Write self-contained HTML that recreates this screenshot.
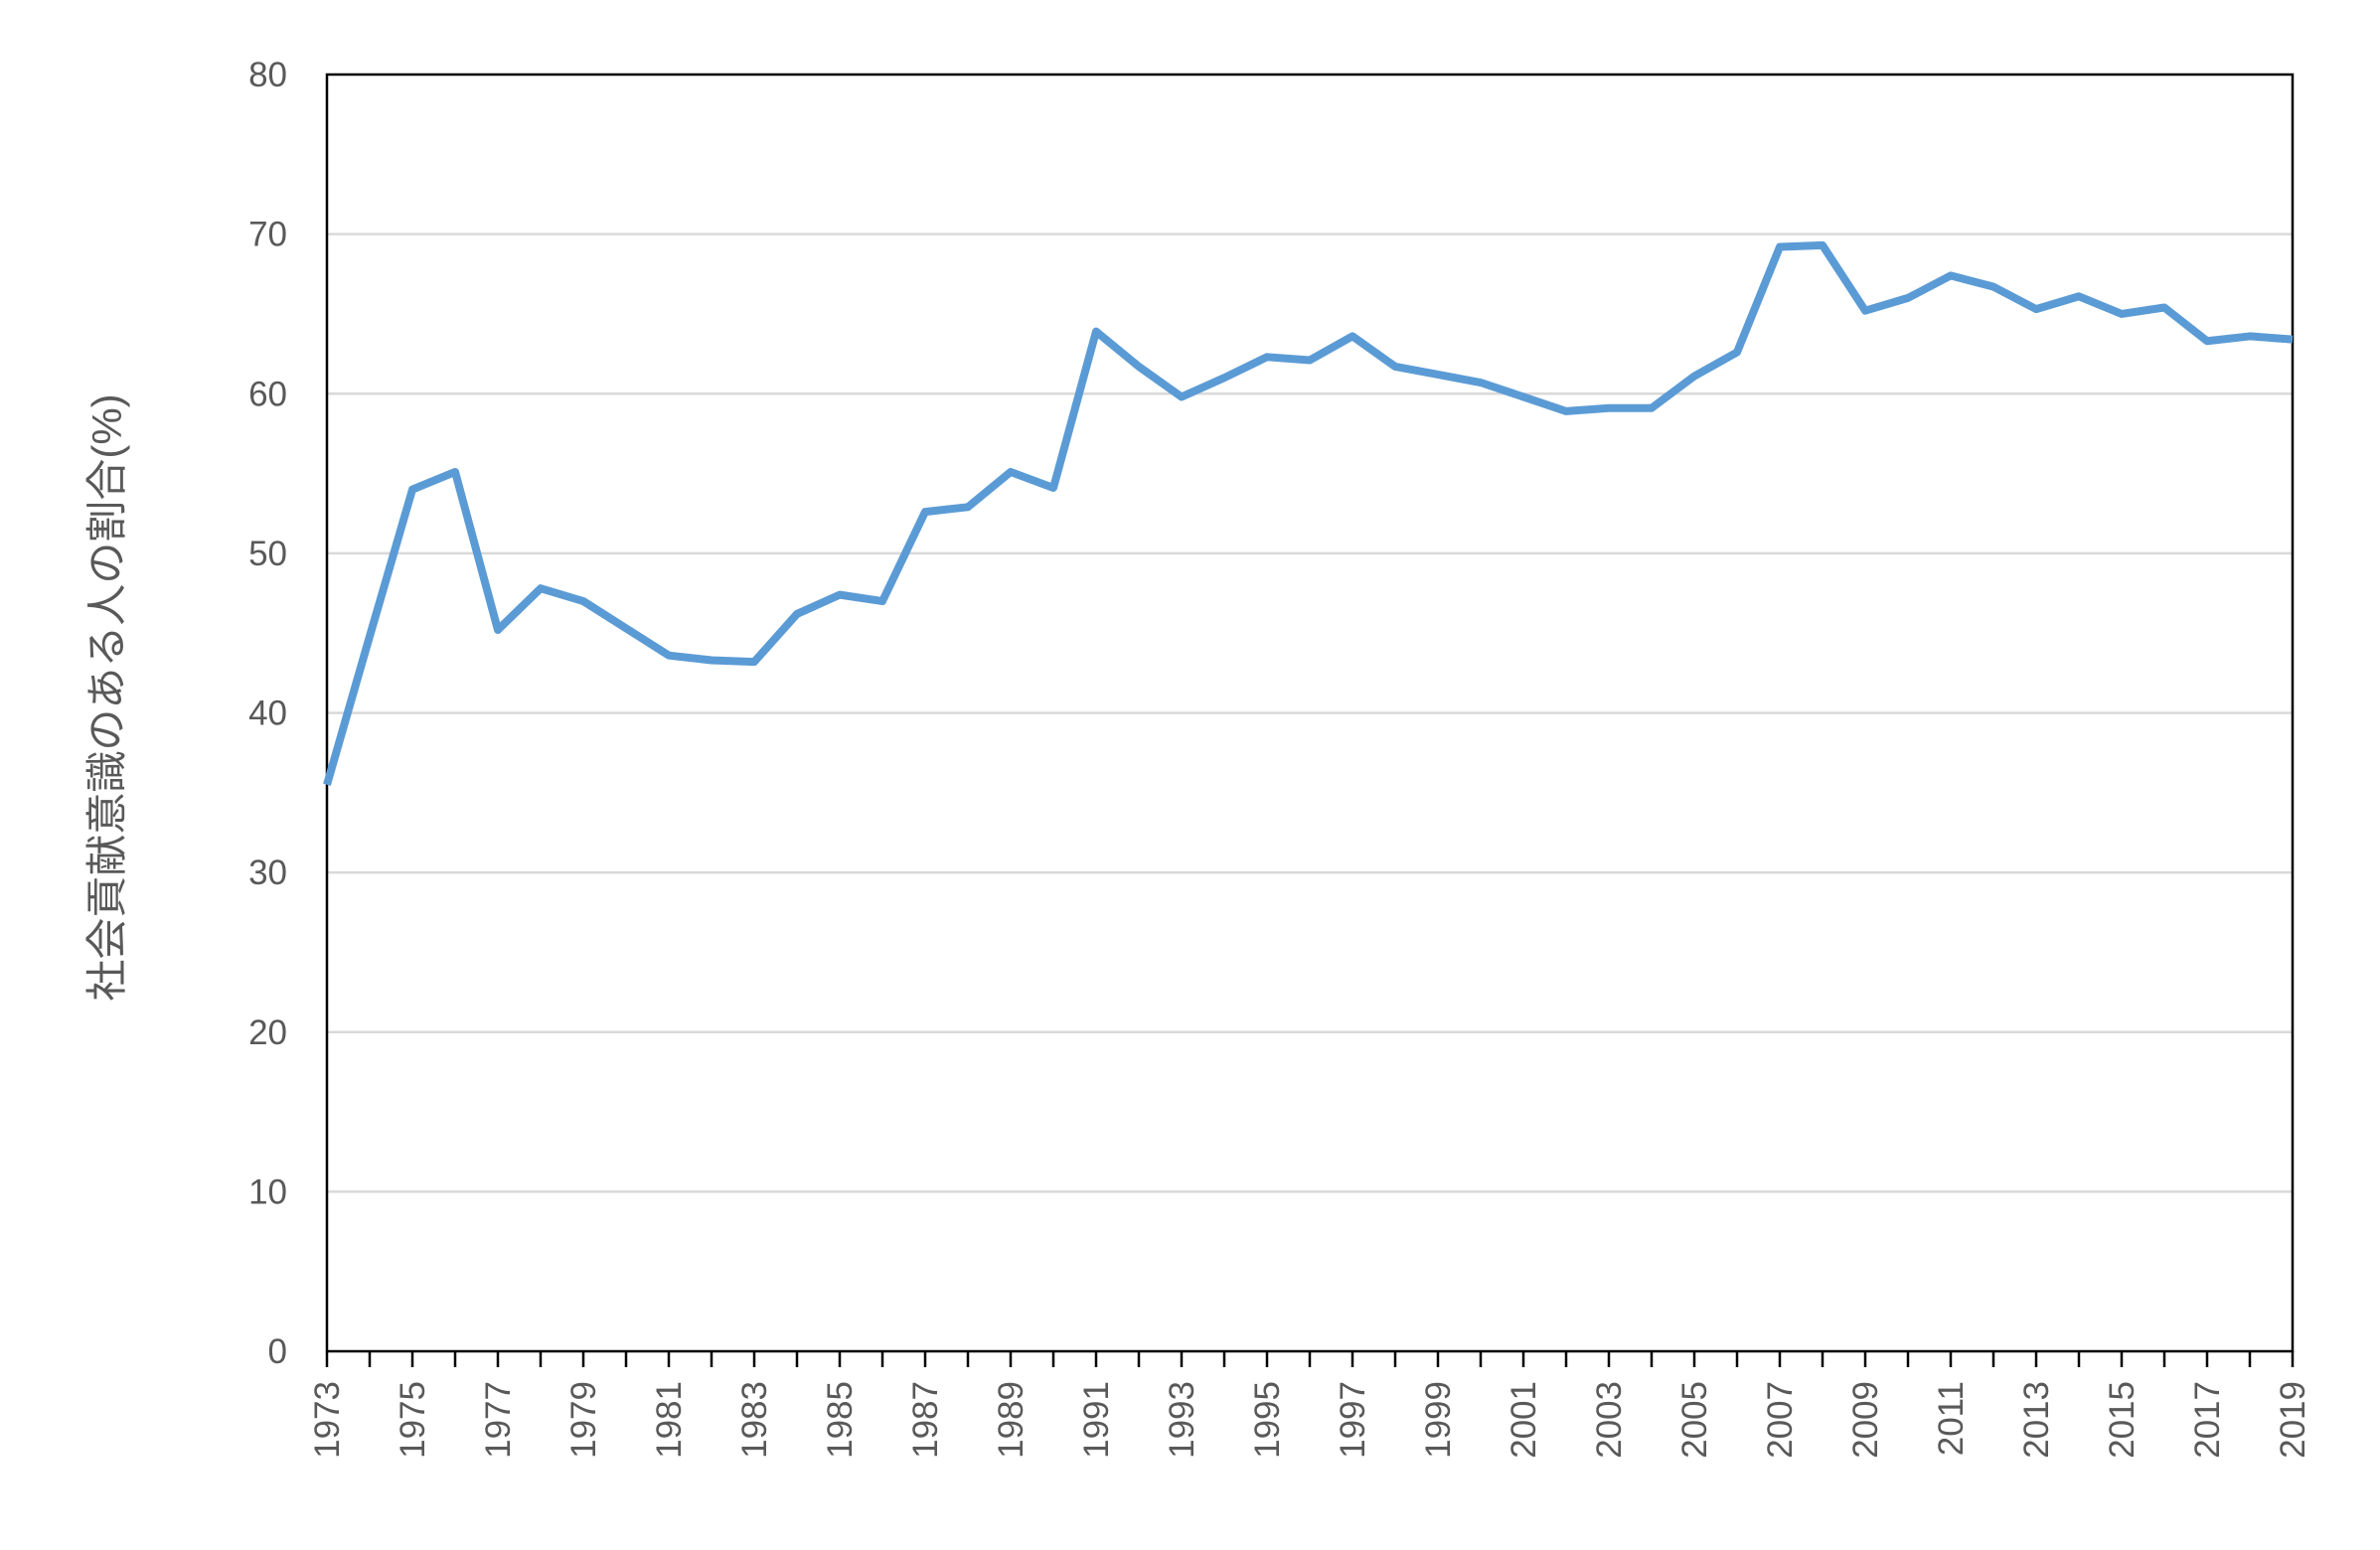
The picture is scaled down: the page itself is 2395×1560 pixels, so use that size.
<!DOCTYPE html>
<html><head><meta charset="utf-8"><style>
body{margin:0;background:#fff;}
svg text{font-family:"Liberation Sans","Noto Sans CJK JP",sans-serif;fill:#595959;}
</style></head><body>
<svg id="chart" width="2395" height="1555" viewBox="0 0 2395 1555" xmlns="http://www.w3.org/2000/svg">
<g id="grid"></g><g id="yticks"></g><g id="xticks"></g><g id="series"></g>
<text transform="translate(122,702) rotate(-90)" text-anchor="middle" font-size="42">社会貢献意識のある人の割合(%)</text>
</svg>
<script>
const years=[1973,1974,1975,1976,1977,1978,1979,1980,1981,1982,1983,1984,1985,1986,1987,1988,1989,1990,1991,1992,1993,1994,1995,1996,1997,1998,1999,2000,2001,2002,2003,2004,2005,2006,2007,2008,2009,2010,2011,2012,2013,2014,2015,2016,2017,2018,2019];
const values=[35.5,44.8,54.0,55.1,45.2,47.8,47.0,45.3,43.6,43.3,43.2,46.2,47.4,47.0,52.6,52.9,55.1,54.1,63.9,61.7,59.8,61.0,62.3,62.1,63.6,61.7,61.2,60.7,59.8,58.9,59.1,59.1,61.1,62.6,69.2,69.3,65.2,66.0,67.4,66.7,65.3,66.1,65.0,65.4,63.3,63.6,63.4];
const yTicks=[0,10,20,30,40,50,60,70,80];
const NS='http://www.w3.org/2000/svg';
const L=329,R=2307,T=75,B=1360;
const x=i=>L+(R-L)*i/(years.length-1);
const y=v=>B-(B-T)*v/80;
function mk(tag,attrs,parent){const e=document.createElementNS(NS,tag);for(const k in attrs)e.setAttribute(k,attrs[k]);document.getElementById(parent)?document.getElementById(parent).appendChild(e):parent.appendChild(e);return e;}
yTicks.forEach(v=>{
  if(v>0&&v<80){const g=mk('line',{x1:L,x2:R,y1:y(v),y2:y(v),stroke:'#d9d9d9','stroke-width':2.5},'grid');
  
  }
  const t=mk('text',{x:289,y:y(v)+12,'text-anchor':'end','font-size':35},'yticks');
  t.textContent=v;
  
  
});
years.forEach((yr,i)=>{
  const tk=mk('line',{x1:x(i),x2:x(i),y1:B,y2:B+16,stroke:'#000','stroke-width':2.5},'xticks');
  
  
  if(i%2===0){const t=mk('text',{transform:`translate(${x(i)+12},1390) rotate(-90)`,'text-anchor':'end','font-size':35},'xticks');
  t.textContent=yr;
  
  }
});
const frame=mk('rect',{x:L,y:T,width:R-L,height:B-T,fill:'none',stroke:'#000','stroke-width':2.5},'series');


const pl=mk('polyline',{points:values.map((v,i)=>x(i)+','+y(v)).join(' '),fill:'none',stroke:'#5B9BD5','stroke-width':8,'stroke-linejoin':'round'},'series');


</script>
</body></html>
